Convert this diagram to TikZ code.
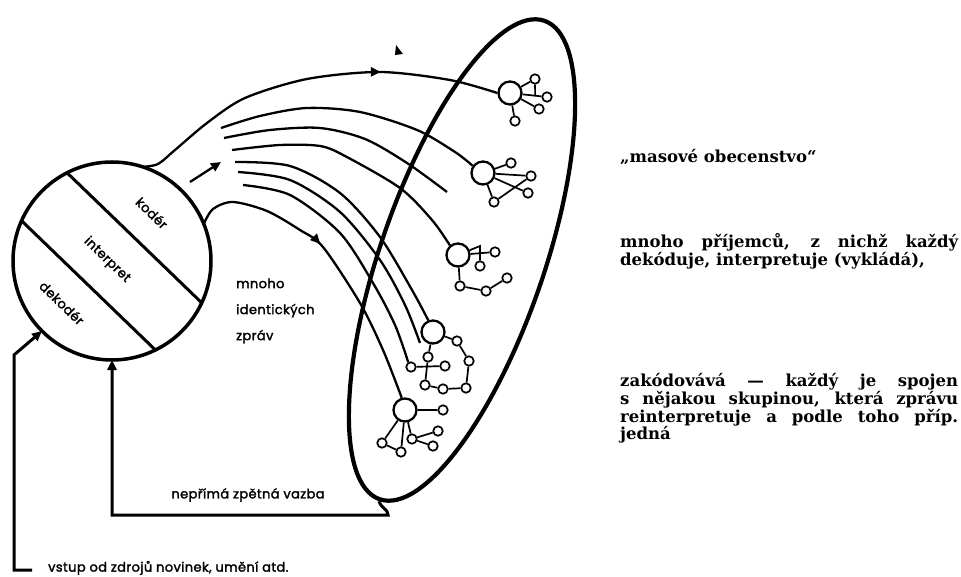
\documentclass[tikz,border=0pt]{standalone}
\usepackage{fontspec}
\newfontfamily\labfont{Poppins}[FakeBold=2, LetterSpace=3]
\newfontfamily\serfont{DejaVu Serif}
\usetikzlibrary{arrows.meta,decorations.markings,shapes.geometric,calc}
\begin{document}
\begin{tikzpicture}[x=1pt,y=-1pt,
  lab/.style={font=\labfont\fontsize{13}{26}\selectfont, inner sep=0},
  big/.style={circle, draw, line width=2.3pt, minimum size=23pt, inner sep=0, fill=white},
  sm/.style={circle, draw, line width=1.7pt, minimum size=9.5pt, inner sep=0, fill=white},
  net/.style={line width=1.7pt},
  flow/.style={line width=2.3pt},
  tip/.style={-{Triangle[length=10pt,width=9pt]}},
  midarrow/.style={postaction={decorate}, decoration={markings, mark=at position #1 with {\arrow{Triangle[length=10pt,width=9pt]}}}},
  rtext/.style={font=\serfont\bfseries\fontsize{16.5}{16.7}\selectfont, inner sep=0, anchor=north west}
]
\useasboundingbox (0,0) rectangle (961,577);

% sender circle
\node[circle, draw, line width=3.5pt, minimum size=198pt, inner sep=0, outer sep=0] (c) at (112,261) {};
\draw[line width=3pt] (c.117) -- (c.-25);
\draw[line width=3pt] (c.156) -- (c.-64);
\node[lab, rotate=-44] (kod) at (152,213) {kodér};
\node[lab, rotate=-44] (int) at (107,260) {interpret};
\node[lab, rotate=-44] (dek) at (62,303) {dekodér};

% audience ellipse
\node[ellipse, draw, line width=4.2pt, minimum width=506pt, minimum height=164pt, inner sep=0, rotate=71] (E) at (462,260) {};

% receiver 1
\node[big] (b1) at (510,93) {};
\node[sm] (s11) at (535,79) {};
\node[sm] (s12) at (547,97) {};
\node[sm] (s13) at (539,109) {};
\node[sm] (s14) at (515,121) {};
\draw[net] (b1) -- (s11) (b1) -- (s12) (b1) -- (s13) (b1) -- (s14);
\draw[net] (s11) -- ($(b1)!0.68!(s12)$);

% receiver 2
\node[big] (b2) at (483,173) {};
\node[sm] (s21) at (511,163) {};
\node[sm] (s22) at (531,176) {};
\node[sm] (s23) at (528,193) {};
\node[sm] (s24) at (494,202) {};
\draw[net] (b2) -- (s21) (b2) -- (s22) (b2) -- (s23) (b2) -- (s24) (s24) -- (s22);

% receiver 3
\node[big] (b3) at (458,255) {};
\node[sm] (s31) at (495,252) {};
\node[sm] (s32) at (480,266) {};
\node[sm] (s33) at (460,286) {};
\node[sm] (s34) at (486,291) {};
\node[sm] (s35) at (507,278) {};
\coordinate (k3) at (480,246);
\draw[net] (b3) -- (s31) (b3) -- (k3) -- (s32) (b3) -- (s33) -- (s34) -- (s35);

% receiver 4
\node[big] (b4) at (433,332) {};
\node[sm] (t4a) at (428,357) {};
\node[sm] (t4b) at (411,367) {};
\node[sm] (t4c) at (445,366) {};
\node[sm] (t4d) at (457,341) {};
\node[sm] (t4e) at (469,361) {};
\node[sm] (t4f) at (466,388) {};
\node[sm] (t4g) at (443,389) {};
\node[sm] (t4h) at (425,385) {};
\draw[net] (b4) -- (t4a) (t4b) -- (t4c) (t4a) -- (t4h) -- (t4g) -- (t4f) -- (t4e) -- (t4d) -- (b4);

% receiver 5
\node[big] (b5) at (405,410) {};
\node[sm] (n1) at (443,410) {};
\node[sm] (n2) at (438,431) {};
\node[sm] (n3) at (433,446) {};
\node[sm] (n4) at (412,439) {};
\node[sm] (n5) at (382,443) {};
\node[sm] (n6) at (401,452) {};
\draw[net] (b5) -- (n1) (b5) -- (n4) -- (n2) (n4) -- (n3) (b5) -- (n5) -- (n6) -- (b5);

% free ends of the fan
\coordinate (f1) at (221,128);
\coordinate (f2) at (224,138);
\coordinate (f3) at (232,150);
\coordinate (f4) at (235,162);
\coordinate (f5) at (238,172);
\coordinate (f6) at (243,185);
\coordinate (e2) at (447,192);
\coordinate (e5) at (420,343);

% outer channel curves
\draw[flow, midarrow=0.69] plot[smooth] coordinates {(c.72) (158,164) (175,150) (207,123) (245,98) (307,79) (380,72) (450,80) (b1.west)};
\draw[flow, midarrow=0.44] plot[smooth] coordinates {(c.22) (213,209) (233,202) (267,211) (300,230) (323,247) (360,303) (383,350) (b5.105)};

% fan of identical messages
\draw[flow] plot[smooth] coordinates {(f1) (260,116) (307,108) (360,112) (417,130) (455,152) (b2.145)};
\draw[flow] plot[smooth] coordinates {(f2) (270,130) (320,128) (365,139) (407,163) (e2)};
\draw[flow] plot[smooth] coordinates {(f3) (280,145) (320,146) (345,156) (400,188) (432,220) (b3.130)};
\draw[flow] plot[smooth] coordinates {(f4) (290,166) (340,193) (380,237) (412,290) (b4.112)};
\draw[flow] plot[smooth] coordinates {(f5) (290,180) (340,212) (380,260) (405,305) (e5)};
\draw[flow] plot[smooth] coordinates {(f6) (290,195) (340,233) (373,283) (395,325) (t4b.120)};

% small arrow
\coordinate (a1) at (190,182);
\coordinate (a2) at (221,162);
\draw[flow, tip] (a1) -- (a2);

% tiny mark
\fill (396,45) -- (403,54) -- (395,55) -- cycle;

% input line
\coordinate (in1) at (32,570);
\coordinate (in2) at (14,570);
\coordinate (in3) at (14,355);
\draw[line width=3pt, tip] (in1) -- (in2) -- (in3) -- (c.225);

% feedback
\coordinate (fb2) at (388,515);
\draw[line width=3pt, tip] (E.west) .. controls +(3,8) and +(0,-6) .. (fb2) -- (c.south |- fb2) -- (c.south);

% labels
\node[lab, align=left, anchor=west] (mi) at (236,311) {mnoho\\identických\\zpráv};
\node[lab] (fbl) at (248,495) {nepřímá zpětná vazba};
\node[lab, anchor=west] (inl) at (48,568) {vstup od zdrojů novinek, umění atd.};

% right text
\node[rtext, anchor=west] (t1) at (620,157) {„masové obecenstvo“};
\node[rtext, text width=338pt, align=justify] (t2) at (620,233) {\parfillskip=0pt mnoho příjemců, z nichž každý\linebreak dekóduje, interpretuje (vykládá),};
\node[rtext, text width=338pt, align=justify] (t3) at (620,373) {zakódovává — každý je spojen\linebreak s nějakou skupinou, která zprávu\linebreak reinterpretuje a podle toho příp.\linebreak jedná};
\end{tikzpicture}
\end{document}
